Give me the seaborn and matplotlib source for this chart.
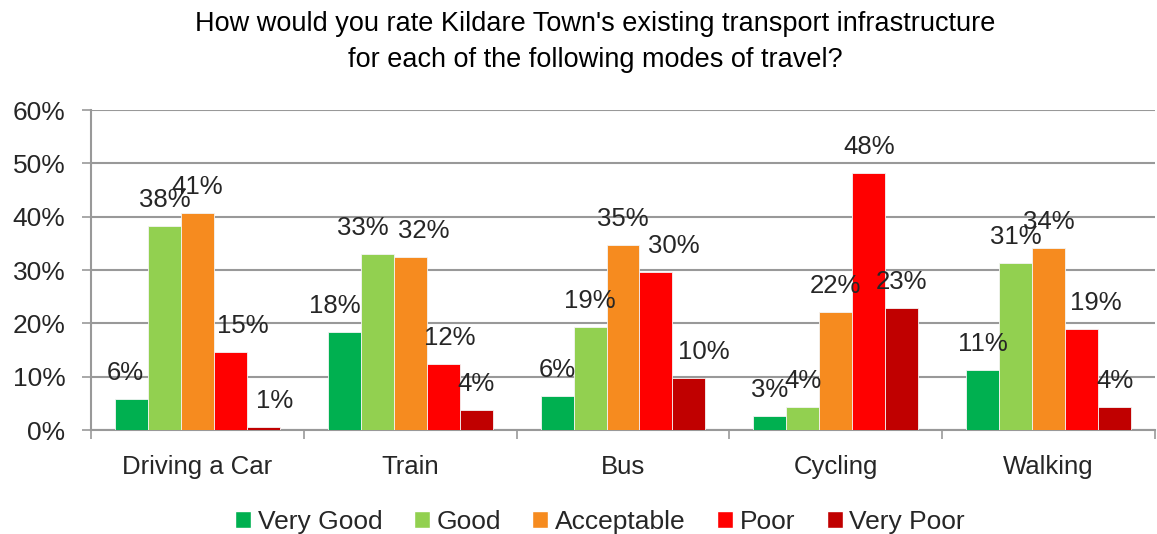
import matplotlib
matplotlib.use("Agg")
import matplotlib.pyplot as plt
import seaborn as sns
import pandas as pd
from matplotlib.patches import Patch
from matplotlib.ticker import FixedLocator, PercentFormatter

modes = ["Driving a Car", "Train", "Bus", "Cycling", "Walking"]
ratings = ["Very Good", "Good", "Acceptable", "Poor", "Very Poor"]
very_good = [5.9, 18.4, 6.4, 2.6, 11.3]
good = [38.3, 33.0, 19.4, 4.3, 31.4]
acceptable = [40.6, 32.4, 34.6, 22.2, 34.2]
poor = [14.6, 12.4, 29.7, 48.2, 18.9]
very_poor = [0.6, 3.7, 9.7, 22.8, 4.3]
colors = ["#00B050", "#92D050", "#F68B1F", "#FF0000", "#C00000"]
title = "How would you rate Kildare Town's existing transport infrastructure\nfor each of the following modes of travel?"

# horizontal nudges (pixels) of data labels, as in the reference layout
label_nudge_px = {
    ("Driving a Car", "Very Good"): -6, ("Driving a Car", "Poor"): 12,
    ("Driving a Car", "Very Poor"): 11,
    ("Train", "Very Good"): -9, ("Train", "Good"): -14,
    ("Train", "Acceptable"): 14, ("Train", "Poor"): 7,
    ("Bus", "Poor"): 18, ("Bus", "Very Poor"): 15,
    ("Walking", "Poor"): 14,
}

series = [very_good, good, acceptable, poor, very_poor]
rows = []
for r, vals in zip(ratings, series):
    for m, v in zip(modes, vals):
        rows.append({"Mode": m, "Rating": r, "Value": v})
df = pd.DataFrame(rows)

sns.set_theme(style="white")
plt.rcParams["font.family"] = ["Liberation Sans", "DejaVu Sans"]
txt = "#262626"
grey = "#999999"

fig = plt.figure(figsize=(11.57, 5.34), dpi=100)
ax = fig.add_axes([91/1157, 1-430/534, (1155-91)/1157, (430-110)/534])

sns.barplot(data=df, x="Mode", y="Value", hue="Rating", order=modes,
            hue_order=ratings, palette=colors, saturation=1, width=0.775, gap=0,
            edgecolor="#f4f4f4", linewidth=0.6, ax=ax, legend=False, zorder=3)

px2pt = 72 / 100
for r, cont in zip(ratings, ax.containers):
    for m, bar in zip(modes, cont):
        h = bar.get_height()
        dx = label_nudge_px.get((m, r), 0)
        ax.annotate(f"{round(h)}%", (bar.get_x() + bar.get_width() / 2, h),
                    xytext=(dx * px2pt, 26 * px2pt), textcoords="offset points",
                    ha="center", va="center", fontsize=18.5, color=txt, zorder=5)

ax.set_ylim(0, 60)
ax.set_xlim(-0.5, 4.5)
ax.set_yticks(range(0, 61, 10))
ax.yaxis.set_major_formatter(PercentFormatter(decimals=0))
ax.yaxis.grid(True, color=grey, linewidth=1.5, zorder=0)
ax.set_axisbelow(True)
ax.set_xlabel("")
ax.set_ylabel("")
ax.xaxis.set_minor_locator(FixedLocator([-0.5, 0.5, 1.5, 2.5, 3.5, 4.5]))
ax.tick_params(axis="x", which="major", length=0, pad=18, labelsize=18.5, labelcolor=txt)
ax.tick_params(axis="x", which="minor", length=6.5, width=1.2, color=grey, bottom=True)
ax.tick_params(axis="y", length=6.5, width=1.2, color=grey, left=True, pad=12,
               labelsize=19, labelcolor=txt)
for s in ["top", "right"]:
    ax.spines[s].set_visible(False)
for s in ["left", "bottom"]:
    ax.spines[s].set_color(grey)
    ax.spines[s].set_linewidth(1.5)

fig.text(595/1157, 1-11/534, title, ha="center", va="top", fontsize=19.5,
         color="black", linespacing=1.48)

handles = [Patch(facecolor=c, label=r) for c, r in zip(colors, ratings)]
fig.legend(handles=handles, loc="center", bbox_to_anchor=(600/1157, 1-522/534),
           ncol=5, frameon=False, fontsize=19, handlelength=0.6, handleheight=0.6,
           handletextpad=0.25, columnspacing=1.2, labelcolor=txt,
           borderpad=0, borderaxespad=0)

fig.savefig("out.png", dpi=100)
